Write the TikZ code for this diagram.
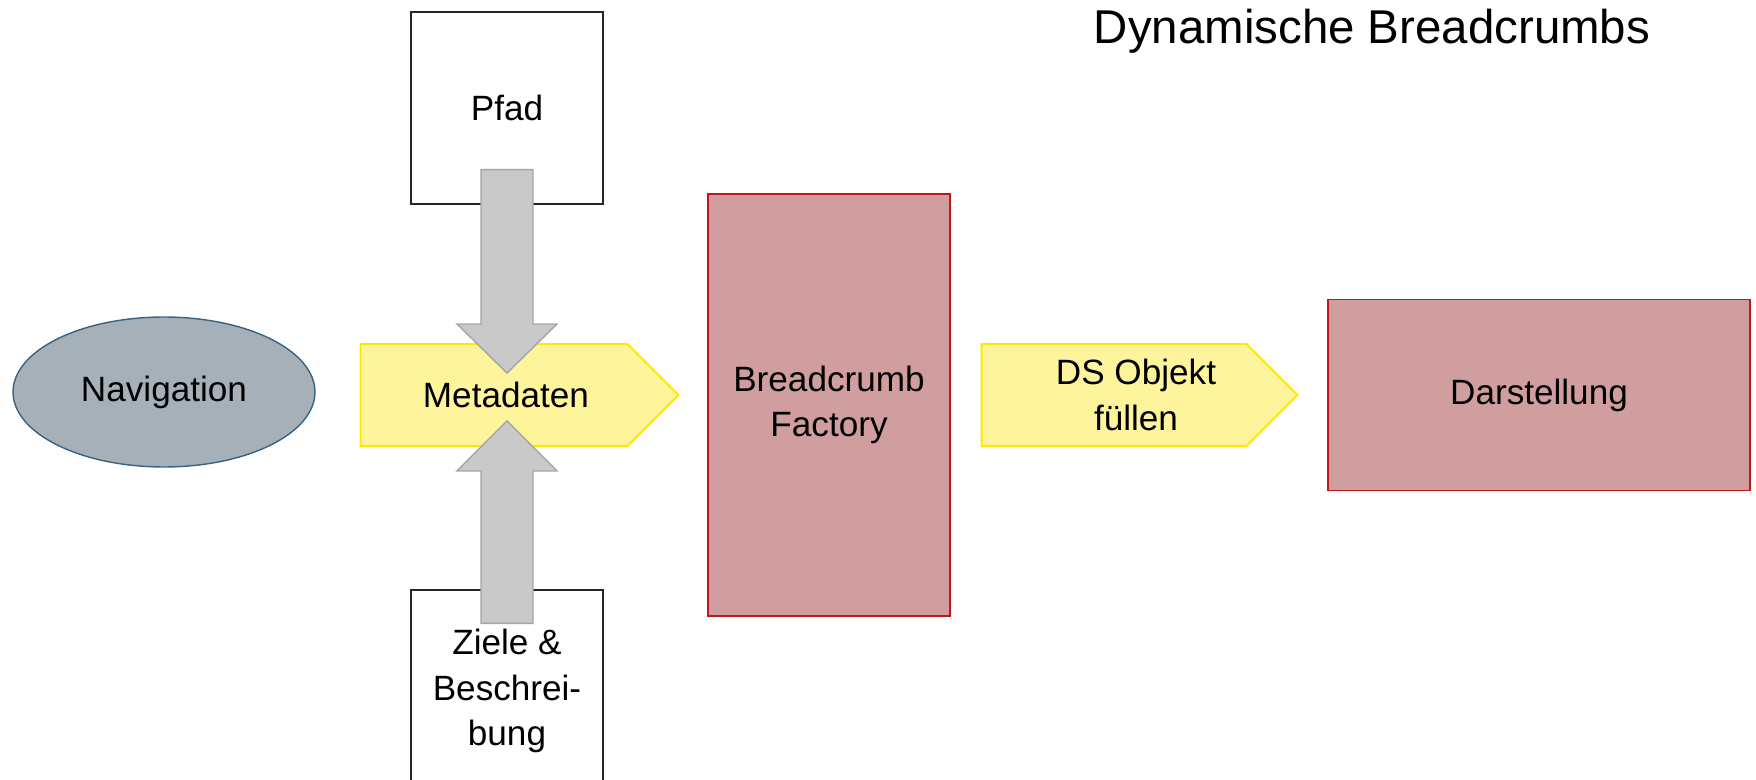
\documentclass[tikz,border=0pt]{standalone}
\usepackage{fontspec}
\setmainfont{Liberation Sans}
\usepackage{tikz}
\usetikzlibrary{positioning,calc,shapes.geometric,shapes.symbols}
\definecolor{navfill}{HTML}{A6B0B8}
\definecolor{navline}{HTML}{3A6282}
\definecolor{redfill}{HTML}{D09E9E}
\definecolor{redline}{HTML}{C0161E}
\definecolor{yelfill}{HTML}{FEF49C}
\definecolor{yelline}{HTML}{FFE800}
\definecolor{arrfill}{HTML}{C9C9C9}
\definecolor{arrline}{HTML}{A5A5A5}

\begin{document}
\begin{tikzpicture}[
x=0.02cm, y=-0.02cm,
font=\fontsize{20}{26}\selectfont,
plainbox/.style={draw=black!85,line width=0.8pt,fill=white,minimum width=3.84cm,minimum height=3.84cm,align=center},
redbox/.style={draw=redline,line width=1.1pt,fill=redfill,align=center},
yelsignal/.style={signal,signal to=east,draw=yelline,line width=1.1pt,fill=yelfill,minimum width=6.36cm,minimum height=2.04cm,align=center},
grayarrow/.style={draw=arrline,line width=0.8pt,fill=arrfill,line join=miter}]
    % Frame
    \useasboundingbox (0,0) rectangle (1756,780);
    \clip (0,0) rectangle (1756,780);

    % Title
    \node (title) at (1372,31) {\fontsize{27}{32}\selectfont Dynamische Breadcrumbs};

    % Sources
    \node[ellipse,draw=navline,line width=0.8pt,fill=navfill,minimum width=6.04cm,minimum height=3cm] (nav) at (164,392) {Navigation};
    \node[plainbox] (pfad) at (507,108) {Pfad};
    \node[plainbox,minimum height=4.04cm] (ziele) at (507,691) {Ziele \&\\Beschrei-\\bung};

    % Flow
    \node[yelsignal] (meta) at (494,395) {\hspace*{0.48cm}Metadaten};
    \node[redbox,minimum width=4.84cm,minimum height=8.44cm] (factory) at (829,405) {Breadcrumb\\Factory};
    \node[yelsignal,minimum width=6.32cm] (dsobj) at (1114,395) {\hspace*{0.88cm}DS Objekt\\\hspace*{0.88cm}füllen};
    \node[redbox,minimum width=8.44cm,minimum height=3.82cm] (darst) at (1539,395) {Darstellung};

    % Block arrows into Metadaten
    \coordinate (dtip) at ($(meta.north -| pfad.south)+(0,30)$);
    \coordinate (utip) at ($(meta.south -| ziele.north)+(0,-26)$);
    \draw[grayarrow] ($(pfad.south)+(-26,-35)$) -- ($(pfad.south)+(26,-35)$)
        -- ($(dtip)+(26,-49)$) -- ($(dtip)+(50,-49)$) -- (dtip)
        -- ($(dtip)+(-50,-49)$) -- ($(dtip)+(-26,-49)$) -- cycle;
    \draw[grayarrow] ($(ziele.north)+(-26,34)$) -- ($(ziele.north)+(26,34)$)
        -- ($(utip)+(26,50)$) -- ($(utip)+(50,50)$) -- (utip)
        -- ($(utip)+(-50,50)$) -- ($(utip)+(-26,50)$) -- cycle;
\end{tikzpicture}
\end{document}
